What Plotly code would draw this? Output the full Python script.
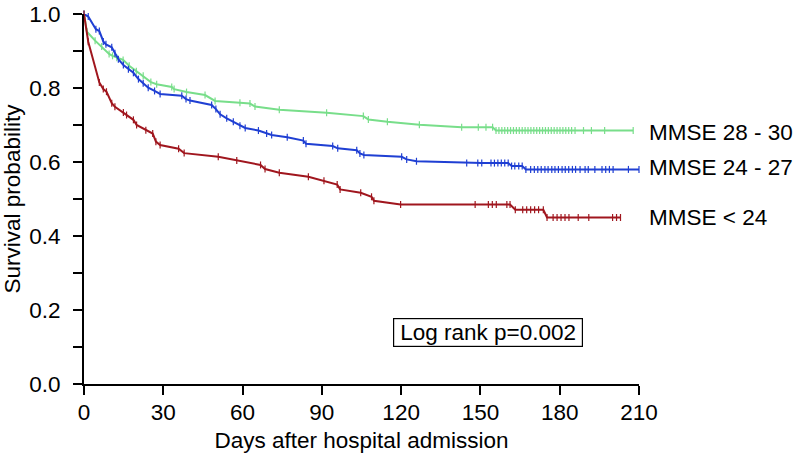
import plotly.graph_objects as go

# ---- data ----
red_t = [0, 1.6, 5.8, 7.3, 8.5, 10.5, 11.7, 14.9, 16.1, 18.7, 19.9, 23.4, 26.0, 27.2, 28.8,
         35.8, 37.9, 50.8, 57.8, 66.8, 68.5, 73.9, 84.9, 90.8, 95.8, 96.9, 104.7, 108.8,
         109.7, 119.8, 148, 153, 154.5, 156, 160, 161.2, 163.2, 166, 167.5, 169, 170.5,
         172, 173.8, 175.2, 177.5, 179, 180.5, 182, 183.5, 187, 191, 200, 201.5, 203]
red_s = [1.0, 0.925, 0.815, 0.797, 0.79, 0.759, 0.749, 0.734, 0.727, 0.714, 0.700, 0.686,
         0.677, 0.655, 0.646, 0.636, 0.624, 0.614, 0.604, 0.592, 0.581, 0.571, 0.560, 0.549,
         0.539, 0.526, 0.517, 0.506, 0.495, 0.485, 0.485, 0.485, 0.485, 0.485, 0.485, 0.485,
         0.471, 0.471, 0.471, 0.471, 0.471, 0.471, 0.471, 0.450, 0.450, 0.450, 0.450, 0.450,
         0.450, 0.450, 0.450, 0.450, 0.450, 0.450]

blue_t = [0, 1.6, 4.5, 5.8, 7.3, 8.3, 10.5, 11.7, 13.0, 14.9, 16.8, 18.7, 20.6, 22.4, 24.3,
          26.7, 28.8, 37, 38.6, 40.1, 48.3, 49.9, 51.5, 54, 56.5, 59, 61, 66, 69.1, 71, 76.9,
          83, 84, 94.1, 96, 103.2, 104.4, 105.9, 120.2, 122.1, 125.8, 144.8, 149, 150.5,
          154, 155.3, 156.6, 157.9, 159.2, 160.5, 161.8, 163, 164.5, 165.8, 167.2, 169,
          170.4, 171.7, 173, 174.4, 175.6, 177, 178.2, 179.5, 180.9, 182.1, 183.4, 184.8,
          186, 187.7, 189.6, 190.8, 193.3, 196, 197.4, 198.8, 200.2, 206, 210]
blue_s = [1.0, 0.993, 0.959, 0.954, 0.926, 0.918, 0.910, 0.894, 0.878, 0.862, 0.851, 0.841,
          0.824, 0.813, 0.801, 0.792, 0.784, 0.779, 0.770, 0.766, 0.754, 0.743, 0.729, 0.718,
          0.709, 0.698, 0.692, 0.685, 0.677, 0.673, 0.667, 0.658, 0.649, 0.643, 0.637, 0.632,
          0.623, 0.619, 0.614, 0.607, 0.602, 0.597, 0.597, 0.597, 0.597, 0.597, 0.597, 0.597,
          0.597, 0.597, 0.589, 0.589, 0.589, 0.589, 0.580, 0.580, 0.580, 0.580, 0.580, 0.580,
          0.580, 0.580, 0.580, 0.580, 0.580, 0.580, 0.580, 0.580, 0.580, 0.580, 0.580, 0.580,
          0.580, 0.580, 0.580, 0.580, 0.580, 0.580, 0.580]

green_t = [0, 1.1, 4.2, 6.7, 9.5, 10.8, 12.4, 14.8, 17.1, 19.8, 22.4, 25.3, 27.5, 33.2, 34.1,
           38.8, 45.8, 49.6, 59, 62.8, 64.7, 73.9, 91.8, 105.7, 107.6, 114.8, 126.9, 142.9,
           149.2, 152.1, 154.6, 155.9, 157, 158.1, 159.2, 160.3, 161.4, 162.5, 163.6, 164.7,
           165.8, 166.9, 168, 169.1, 170.2, 171.3, 172.4, 173.5, 174.6, 175.7, 176.8, 177.9,
           179, 180.1, 181.2, 182.3, 183.4, 184.5, 185.8, 189, 192, 197, 207.8]
green_s = [1.0, 0.952, 0.928, 0.912, 0.892, 0.887, 0.882, 0.876, 0.860, 0.845, 0.833, 0.816,
           0.810, 0.803, 0.797, 0.789, 0.781, 0.765, 0.760, 0.758, 0.750, 0.741, 0.733, 0.724,
           0.715, 0.709, 0.701, 0.694, 0.694, 0.694, 0.694, 0.685, 0.685, 0.685, 0.685, 0.685,
           0.685, 0.685, 0.685, 0.685, 0.685, 0.685, 0.685, 0.685, 0.685, 0.685, 0.685, 0.685,
           0.685, 0.685, 0.685, 0.685, 0.685, 0.685, 0.685, 0.685, 0.685, 0.685, 0.685, 0.685,
           0.685, 0.685, 0.685]

series = [
    ("MMSE 28 - 30", green_t, green_s, "#78DE8A"),
    ("MMSE 24 - 27", blue_t, blue_s, "#1F3FD3"),
    ("MMSE < 24", red_t, red_s, "#A0161E"),
]
label_y = {"MMSE 28 - 30": 0.681, "MMSE 24 - 27": 0.584, "MMSE < 24": 0.449}

x_ticks = [0, 30, 60, 90, 120, 150, 180, 210]
y_ticks = [0.0, 0.2, 0.4, 0.6, 0.8, 1.0]
y_tick_text = ["0.0", "0.2", "0.4", "0.6", "0.8", "1.0"]
X_MAX = 210

FONT = "Liberation Sans, Arial, Helvetica, sans-serif"
FS = 22.5

fig = go.Figure()
for name, t, s, col in series:
    fig.add_trace(go.Scatter(
        x=t, y=s, mode="lines+markers", name=name,
        line=dict(color=col, width=2),
        marker=dict(symbol="line-ns", size=5, line=dict(color=col, width=1.2)),
        cliponaxis=False, showlegend=False,
    ))

annotations = []
for name, t, s, col in series:
    annotations.append(dict(
        x=1.0 + 3.2 / X_MAX, y=label_y[name], xref="paper", yref="y", text=name,
        showarrow=False, xanchor="left", yanchor="middle",
        font=dict(size=FS, color="black", family=FONT),
    ))
annotations.append(dict(
    x=153, y=0.138, xref="x", yref="y", text="Log rank p=0.002", showarrow=False,
    xanchor="center", yanchor="middle", font=dict(size=FS, color="black", family=FONT),
    bordercolor="black", borderwidth=1.2, borderpad=0, width=188, height=27,
    bgcolor="white",
))

fig.update_layout(
    width=793, height=455,
    margin=dict(l=84, r=154, t=14, b=71),
    paper_bgcolor="white", plot_bgcolor="white",
    font=dict(family=FONT, size=FS, color="black"),
    annotations=annotations,
    xaxis=dict(
        range=[0, X_MAX], tickvals=x_ticks, ticktext=[str(v) for v in x_ticks],
        automargin=False,
        showgrid=False, zeroline=False, showline=True, linecolor="black", linewidth=1.8,
        ticks="outside", ticklen=9, tickwidth=1.5, tickcolor="black",
        tickfont=dict(size=FS, color="black", family=FONT),
        ticklabelstandoff=-2,
        title=dict(text="Days after hospital admission", standoff=8,
                   font=dict(size=FS, color="black", family=FONT)),
    ),
    yaxis=dict(
        range=[0, 1], tickvals=y_ticks, ticktext=y_tick_text,
        automargin=False,
        showgrid=False, zeroline=False, showline=True, linecolor="black", linewidth=2,
        ticks="outside", ticklen=9, tickwidth=1.5, tickcolor="black",
        minor=dict(dtick=0.1, ticks="outside", ticklen=9, tickwidth=1.5, tickcolor="black",
                   showgrid=False),
        tickfont=dict(size=FS, color="black", family=FONT),
        ticklabelstandoff=8,
        title=dict(text="Survival probability", standoff=5,
                   font=dict(size=FS, color="black", family=FONT)),
    ),
)

# remove the default page margin so the figure sits at the window's top-left corner
fig.write_html("out.html", config={"displayModeBar": False},
               post_script="document.body.style.margin='0';")
